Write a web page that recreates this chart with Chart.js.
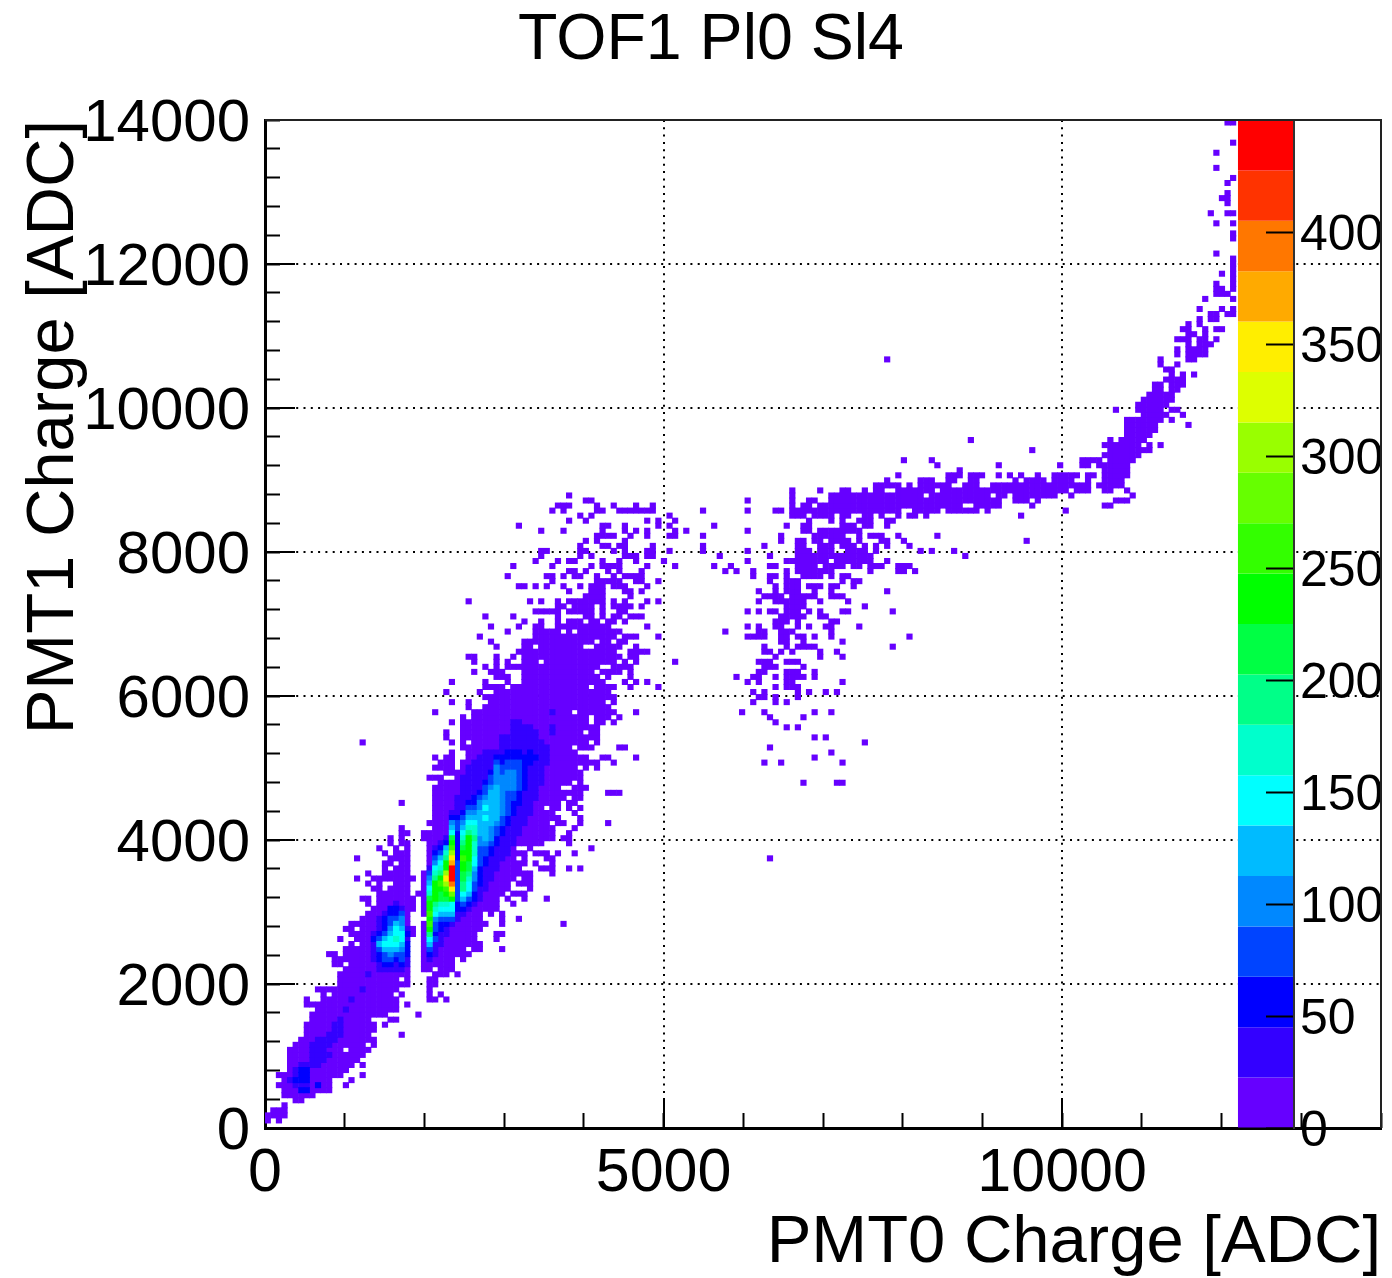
<!DOCTYPE html>
<html>
<head>
<meta charset="utf-8">
<script src="https://cdn.jsdelivr.net/npm/chart.js@4/dist/chart.umd.js"></script>
<style>
  html, body { margin: 0; padding: 0; background: #fff; }
  canvas { display: block; }
</style>
</head>
<body>
<canvas id="hist" width="1392" height="1278"></canvas>
<script>
const chartTitle = 'TOF1 Pl0 Sl4';
const xTitle = 'PMT0 Charge [ADC]';
const yTitle = 'PMT1 Charge [ADC]';

const binSize = 70;
const xTicks = [0, 5000, 10000];
const yTicks = [0, 2000, 4000, 6000, 8000, 10000, 12000, 14000];
const xMinorTicks = [0, 1000, 2000, 3000, 4000, 5000, 6000, 7000, 8000, 9000, 10000, 11000, 12000, 13000, 14000];
const yMinorTicks = [0, 400, 800, 1200, 1600, 2000, 2400, 2800, 3200, 3600, 4000, 4400, 4800, 5200, 5600, 6000, 6400, 6800, 7200, 7600, 8000, 8400, 8800, 9200, 9600, 10000, 10400, 10800, 11200, 11600, 12000, 12400, 12800, 13200, 13600, 14000];
const zTicks = [0, 50, 100, 150, 200, 250, 300, 350, 400];
const zEdges = [0, 22.5, 45, 67.5, 90, 112.5, 135, 157.5, 180, 202.5, 225, 247.5, 270, 292.5, 315, 337.5, 360, 382.5, 405, 427.5, 450];
const zColors = ['#6600ff', '#3300ff', '#0000ff', '#0044ff', '#0088ff', '#00bbff', '#00ffff', '#00ffcc', '#00ff88', '#00ff44',
  '#00ff00', '#33ff00', '#66ff00', '#99ff00', '#ddff00', '#ffee00', '#ffaa00', '#ff7700', '#ff3300', '#ff0000'];

// filled bins at the lowest colour: [row, firstCol, lastCol, firstCol, lastCol, ...]
const lowBlobRuns = [
  [1,0,0,2,2],[2,0,3],[3,1,3],[4,3,3],[5,5,6],[6,3,8],[7,3,11],[8,2,11,14,14],[9,3,11,15,15],[10,2,13,17,17],
  [11,4,14],[12,4,15,17,17],[13,4,16],[14,4,17],[15,4,13,15,18],[16,5,17,19,19],[17,6,19],[18,7,18,24,24],[19,7,19],
  [20,7,19,21,21],[21,8,18,22,23],[22,8,21,27,27],[23,9,23],[24,7,23,25,25],[25,7,7,10,23],[26,10,10,12,22,24,24],
  [27,9,23],[28,13,25],[29,13,23,25,25],[30,13,25],[31,14,25],[32,12,13,15,25],[33,12,25],[34,11,12,14,25],[35,14,25],
  [36,15,15,17,25],[37,13,13,16,25],[38,15,26],[39,14,15,17,26],[40,15,25],[41,17,25],[42,18,25],[43,19,26],
  [44,18,18,20,26],[45,17,18,20,26],[46,20,25,27,27],[47,19,20,22,25],[48,18,18,20,20,23,25],[49,16,16,19,26],
  [50,18,18,21,25],[51,21,21,23,25],[52,21,22,24,25],[53,16,16,22,25],[54,21,21,23,25],[55,20,20,23,23,25,25],
  [56,22,22,24,25],[57,22,22,24,24],[58,24,25],[59,24,24],[64,24,24],[76,17,17]
];
const mainBlobRuns = [
  [25,29,30,32,32],[26,29,29,31,31],[27,29,29],[28,29,30],[29,29,30],[30,30,32,34,34],[31,28,29,31,33],[32,28,33],
  [33,28,33,35,35],[34,28,36],[35,28,35,37,38,42,42],[36,28,38],[37,28,37,41,41],[38,28,37,41,42],[39,28,38],
  [40,28,39,42,42,53,53],[41,29,38,42,42,45,45],[42,28,38,40,40,42,42],[43,28,41],[44,28,41,44,44],
  [45,28,41,43,43,46,46,50,50],[46,28,42,44,46],[47,28,43,47,47],[48,28,43,45,47],[49,28,44,46,47],[50,28,47,51,51],
  [51,29,45,49,51,54,54,56,56],[52,29,46,48,48,51,51],[53,29,44,46,46,50,51],[54,29,46,48,50,52,52,55,55],
  [55,29,44,47,47,58,58],[56,29,49,54,54],[57,28,51,53,54],[58,28,51,54,54],[59,30,51,55,55],[60,29,50,52,53,56,56,61,61],
  [61,30,52,56,56],[62,30,51,55,55],[63,30,49,51,52,54,54,56,56],[64,30,52,54,55],[65,30,53,55,56],[66,30,56,61,63],
  [67,30,52,55,57],[68,31,54,56,56],[69,29,31,34,56],[70,32,56],[71,30,33,35,55,57,57,59,59],[72,31,33,35,59,62,62],
  [73,30,30,32,33,36,57,60,61,66,66],[74,33,33,36,55],[75,35,54,56,58,63,64],[76,33,33,35,35,37,57,59,59],[77,32,32,35,59],
  [78,32,32,35,56,58,59],[79,35,59],[80,33,33,35,57,59,60,62,62]
];
const upperBlobRuns = [
  [81,35,35,37,57,59,61,63,63],[82,30,30,37,54,56,62,66,66],[83,36,36,39,61],[84,33,33,36,36,40,60,62,62],[85,39,62],[86,32,32,38,38,41,61],
  [87,39,42,44,57,59,62,65,65,70,70],[88,33,33,39,39,43,43,46,60,64,64,66,66,68,68],[89,41,43,46,59,61,61,65,65],
  [90,37,37,40,42,46,58,60,63,65,65],[91,39,39,41,41,43,59,62,65],[92,37,37,41,41,43,43,46,48,50,62,64,64,66,66,73,73],
  [93,36,37,41,41,44,44,46,63,65,66],[94,45,62,65,68],[95,41,41,46,47,49,56,59,63,66,66],[96,40,40,46,58,60,61,63,64],
  [97,38,38,48,62,64,66,70,70],[98,43,43,48,52,54,54,56,63],[99,40,40,45,45,48,49,52,61,68,68],
  [100,46,46,49,49,52,52,54,56,58,59,61,62,64,64],[101,39,39,44,44,52,52,57,58,60,60,62,63,65,67],
  [102,48,52,54,58,60,60,63,64],[103,52,53,55,58,60,60,62,65,67,67],[104,36,36,47,47,49,49,52,52,54,60,62,62,64,64,68,68,70,70],
  [105,57,60,65,65],[106,54,54,58,60,64,65,67,67],[107,45,46,48,48,50,50,53,53,56,56,58,60,62,64,68,68],
  [108,51,51,59,63,66,67,70,70],[109,43,43,50,51,53,53,55,56,59,59,62,62,64,67],[110,54,55,57,57,61,61,63,63,67,67],
  [111,44,44,51,51,58,58,60,63,68,68,73,73],[112,48,48,52,52,54,55,60,60,63,63,66,66,71,71],
  [113,49,49,56,56,58,58,64,66,68,69],[114,49,50,56,57,62,62,64,64,68,69,72,72],[115,56,56,60,61,63,64,69,69],
  [116,57,57,59,59,64,64],[117,59,62,65,65,68,68,72,73],[118,49,49,53,53,60,60,64,64,66,66,68,68,73,73,75,75],
  [119,45,45,60,61,64,64,70,70,72,72],[120,54,54,57,57,68,68,70,70,73,73],[121,56,56,58,58,72,72],
  [122,51,51,53,53,59,60,63,69],[123,52,54,59,59,62,62,66,66,69,69],[124,57,58],[125,54,54]
];
const midScatterRuns = [
  [53,90,90],[68,96,96,102,103],[72,89,89,92,92,103,103],[73,98,98],[74,101,101],[75,90,90],[76,107,107],[77,98,98,100,100],
  [79,93,93,95,95],[80,91,91],[81,90,90,96,96],[82,85,85,89,89,98,98,101,101],[84,87,87,91,91,93,93],[85,88,89,91,91,95,95],
  [86,87,87,89,89,95,95,97,97,100,100,102,102],[87,91,91,93,95],[88,86,86,88,88,93,94,103,103],
  [89,84,84,87,88,91,91,93,96,98,98],[90,88,89,93,95,98,98],[91,89,91,96,96],[92,88,90,93,95],[93,91,91,99,99,103,103],
  [94,89,90,92,92,94,94,99,99,102,102],[95,89,89,93,93,95,98,112,112],[96,92,93,96,96,103,103],
  [97,86,89,92,93,95,96,98,98,101,101,115,115],[98,82,82,88,89,92,94,101,101],
  [99,86,86,88,88,91,92,95,95,97,97,100,101,106,106],[100,91,93,95,95,101,102],[101,92,96,99,100],
  [102,86,86,88,88,90,91,93,95,97,97,99,99,103,104,112,112],[103,93,96,107,107],[104,88,88,91,96,99,99,104,104],
  [105,89,92,94,98,101,103],[106,88,88,91,91,93,95,98,98,101,101,111,111],[107,91,91,93,95,97,99,101,102,105,105],
  [108,90,90,93,95,103,103,105,106],[109,87,87,90,91,93,93,96,99,101,101,103,104],
  [110,82,82,84,84,87,87,93,93,95,101,108,108,113,114,116,116],[111,80,80,83,83,90,91,95,98,100,103,105,106,108,110,113,115],
  [112,86,86,93,100,102,108,111,111],[113,81,81,90,90,95,108,125,125],
  [114,78,78,86,86,95,97,99,101,104,107,109,109,117,117,119,119,123,123],
  [115,78,78,89,89,95,96,99,101,103,105,107,107,109,109,111,111,115,115],
  [116,92,92,95,96,98,99,101,104,106,106,110,111,114,114,136,136],[117,78,78,92,92,98,103,106,106,108,110,113,113,120,120],
  [118,86,86,96,97,99,106],[119,80,80,93,93,96,97,103,105],[120,97,97,101,101,103,103],[121,94,96,98,101,103,104],
  [122,78,78,86,86,91,92,94,105],[123,94,94,96,97,99,105],[124,86,86,94,94,97,98,101,105],[125,94,94,101,105],
  [126,94,94,99,99,103,104],[130,124,124],[131,120,120,131,131,142,142,146,147],[132,114,114,119,119,146,147],
  [134,137,137],[136,126,126],[152,111,111]
];
const bandRuns = [
  [119,107,108,111,111],[120,106,108,111,112],[121,107,108,110,110,113,113,115,116,118,118,135,135],
  [122,106,113,116,120,122,127,129,129,143,143],[123,106,124,127,131,137,137,150,151],[124,106,131,134,136,138,138,152,154],
  [125,106,117,119,129,131,132,134,141,144,144,155,155],[126,107,107,109,110,113,119,121,143,145,147,150,151,154,154],
  [127,109,113,115,115,117,122,125,127,130,147,149,153],[128,111,111,117,119,122,123,126,127,134,134,136,139,141,144,147,147,150,153],
  [129,113,113,122,124,126,128,131,131,133,133,135,135,138,138,141,145,147,148,150,154]
];
const tailRuns = [
  [130,150,154],[131,149,154],[132,148,149,151,155],[133,150,156],[134,151,158],[135,150,156,158,158,160,160],[136,151,151,153,157],
  [137,154,158],[138,154,159],[139,154,159,165,165],[140,154,160,162,162],[141,157,161,164,164],[142,152,152,156,160,162,163],
  [143,156,161],[144,157,162],[145,158,162],[146,159,160,162,163],[147,159,160,162,164],[148,161,164],[149,162,162,164,164,166,166],
  [150,161,162],[151,160,160,163,163],[152,160,160,165,166],[153,163,163,165,168],[154,163,163,165,168],[155,165,165,167,169],
  [156,163,165,167,168,170,170],[157,165,166,168,168],[158,164,165,168,168,170,171],[159,165,165,167,167],[160,167,167,169,170],
  [161,169,170,172,173],[162,167,167,171,171,173,173],[164,168,168,173,173],[165,170,172],[166,170,171,173,173],[167,170,170,173,173],
  [168,173,173],[169,171,171,173,173],[170,173,173],[171,173,173],[172,173,173],[173,170,170],[176,173,173],[177,173,173],
  [179,170,170,173,173],[181,169,169,172,173],[183,172,172],[184,171,172],[185,172,172],[187,172,172],[188,173,173],[190,170,170],
  [193,170,170],[195,173,173],[199,172,173]
];
// hotter bins, one column each: [col, firstRow, colour band of every row going up]
const lowCoreCols = [
  [4,9,'1'],[5,8,'1211'],[6,7,'212221'],[7,7,'212221'],[8,12,'11111'],[9,8,'2'],[9,12,'111111'],[10,13,'11111'],[11,14,'1'],
  [11,16,'111'],[12,17,'1111'],[13,18,'1111'],[14,23,'1'],[15,25,'1'],[17,27,'1'],[18,30,'1']
];
const midCoreCols = [
  [19,33,'111121'],[20,31,'11223532111'],[21,31,'123356532221'],[22,31,'1234566543322'],[23,31,'11235676653221'],
  [24,31,'1233456654431'],[25,32,'11222121']
];
const mainCoreCols = [
  [29,33,'123568ababaa9765431'],[30,34,'11132334678aaaa8764321'],[31,36,'11122356799aba8765321'],[32,38,'11235679abdfdaa87521'],
  [33,40,'13566acfhjjjgfdba965421'],[34,41,'1122333333332222223321111'],[35,42,'123568899aaba987654321111111'],
  [36,43,'1235667899aaaaa87654321111111'],[37,44,'12233445667778776543221111111'],[38,45,'11122223333445555544321111111'],
  [39,47,'1111122334555565654332111111'],[40,49,'11111223444555555543321111'],[41,51,'111112233455555554444321'],
  [42,53,'1111122334444444433221111'],[43,54,'111111223333344443322111'],[44,56,'1111112223344443322111111'],
  [45,58,'11111122233333322111111'],[46,60,'11111112222222111111'],[47,62,'111111111122211111'],[48,65,'11111111211111'],
  [49,68,'111111111'],[50,72,'1111'],[51,78,'11'],[51,82,'1']
];

const allRuns = [lowBlobRuns, mainBlobRuns, upperBlobRuns, midScatterRuns, bandRuns, tailRuns];
const allCores = [lowCoreCols, midCoreCols, mainCoreCols];

// row,col -> colour band
const cells = new Map();
allRuns.forEach(runs => runs.forEach(run => {
  for (let i = 1; i < run.length; i += 2) {
    for (let c = run[i]; c <= run[i + 1]; c++) cells.set(c + ',' + run[0], 0);
  }
}));
allCores.forEach(cols => cols.forEach(col => {
  [...col[2]].forEach((ch, i) => cells.set(col[0] + ',' + (col[1] + i), parseInt(ch, 20)));
}));

const cellData = zColors.map(() => []);
cells.forEach((band, key) => {
  const [c, r] = key.split(',').map(Number);
  cellData[band].push({ x: (c + 0.5) * binSize, y: [r * binSize, (r + 1) * binSize] });
});

// first dataset is painted last, so the colour bar goes first and cold bins last
const datasets = [{
  label: 'palette',
  xAxisID: 'x',
  yAxisID: 'z',
  barThickness: 56,
  grouped: false,
  inflateAmount: 0,
  backgroundColor: zColors,
  data: zColors.map((col, i) => ({ x: 12557, y: [zEdges[i], zEdges[i + 1]] }))
}];
for (let i = zColors.length - 1; i >= 0; i--) {
  datasets.push({
    label: 'band ' + i,
    xAxisID: 'x',
    yAxisID: 'y',
    barThickness: 5.2,
    grouped: false,
    inflateAmount: 0.5, // closes the seams between neighbouring bins
    backgroundColor: zColors[i],
    data: cellData[i]
  });
}

const helv = 'Liberation Sans';

const rootFrame = {
  id: 'rootFrame',
  afterLayout(chart) {
    // palette axis sits just right of the bar, not at the pad edge
    chart.scales.z.left = 1294;
    chart.scales.z.right = 1392;
  },
  afterDraw(chart) {
    const a = chart.chartArea, ctx = chart.ctx;
    ctx.save();
    ctx.strokeStyle = '#222';
    ctx.lineWidth = 2;
    ctx.beginPath();
    ctx.moveTo(a.left, a.top);
    ctx.lineTo(a.right, a.top);
    ctx.lineTo(a.right, a.bottom);
    ctx.stroke();
    ctx.restore();
  }
};

new Chart(document.getElementById('hist'), {
  type: 'bar',
  data: { datasets },
  plugins: [rootFrame],
  options: {
    responsive: false,
    animation: false,
    events: [],
    layout: { padding: { left: 41, right: 11, top: 0, bottom: 0 } },
    plugins: {
      legend: { display: false },
      tooltip: { enabled: false },
      title: {
        display: true,
        text: chartTitle,
        color: '#000',
        font: { family: helv, size: 64.5, weight: 'normal', lineHeight: 1 },
        padding: { top: 9, bottom: 46.5 }
      }
    },
    scales: {
      x: {
        type: 'linear',
        position: 'bottom',
        weight: 1,
        offset: false,
        min: 0,
        max: 14000,
        afterFit(s) { s.height = 150; },
        afterBuildTicks(s) { s.ticks = xTicks.map(value => ({ value })); },
        border: { color: '#000', width: 3, dash: [2, 5.3] },
        grid: { offset: false, color: '#000', lineWidth: 2, tickLength: -30, tickColor: '#000', tickWidth: 2 },
        ticks: { color: '#000', font: { family: helv, size: 61 }, maxRotation: 0, autoSkip: false, padding: 40, callback: v => String(v) },
        title: { display: true, text: xTitle, align: 'end', color: '#000', font: { family: helv, size: 67, lineHeight: 1 }, padding: { top: 0, bottom: 0.5 } }
      },
      xMinor: {
        type: 'linear',
        axis: 'x',
        position: 'bottom',
        weight: 0,
        offset: false,
        min: 0,
        max: 14000,
        afterFit(s) { s.height = 0; },
        afterBuildTicks(s) { s.ticks = xMinorTicks.map(value => ({ value })); },
        border: { display: false },
        grid: { offset: false, drawOnChartArea: false, tickLength: -15, tickColor: '#000', tickWidth: 2 },
        ticks: { display: false }
      },
      y: {
        type: 'linear',
        position: 'left',
        weight: 1,
        min: 0,
        max: 14000,
        afterFit(s) { s.width = 224; },
        afterBuildTicks(s) { s.ticks = yTicks.map(value => ({ value })); },
        border: { color: '#000', width: 3, dash: [2, 5.3] },
        grid: { color: '#000', lineWidth: 2, tickLength: -30, tickColor: '#000', tickWidth: 2 },
        ticks: { color: '#000', font: { family: helv, size: 60 }, autoSkip: false, padding: 45, labelOffset: 4, callback: v => String(v) },
        title: { display: true, text: yTitle, align: 'end', color: '#000', font: { family: helv, size: 67, lineHeight: 1 }, padding: { top: -20, bottom: 0 } }
      },
      yMinor: {
        type: 'linear',
        axis: 'y',
        position: 'left',
        weight: 0,
        min: 0,
        max: 14000,
        afterFit(s) { s.width = 0; },
        afterBuildTicks(s) { s.ticks = yMinorTicks.map(value => ({ value })); },
        border: { display: false },
        grid: { drawOnChartArea: false, tickLength: -15, tickColor: '#000', tickWidth: 2 },
        ticks: { display: false }
      },
      z: {
        type: 'linear',
        axis: 'y',
        position: 'right',
        min: 0,
        max: 450,
        afterFit(s) { s.width = 0; },
        afterBuildTicks(s) { s.ticks = zTicks.map(value => ({ value })); },
        border: { color: '#333', width: 2, z: 1 },
        grid: { drawOnChartArea: false, tickLength: -28, tickColor: '#000', tickWidth: 2, z: 1 },
        ticks: { color: '#000', font: { family: helv, size: 50 }, autoSkip: false, padding: 34, labelOffset: 4, z: 1, callback: v => String(v) }
      }
    }
  }
});
</script>
</body>
</html>
